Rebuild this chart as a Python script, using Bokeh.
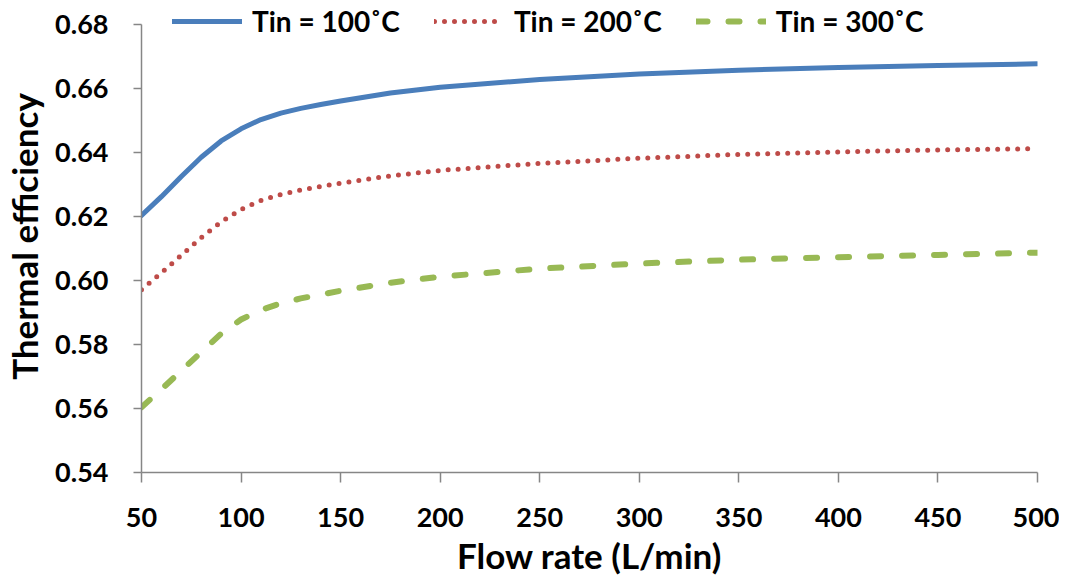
from bokeh.plotting import figure
from bokeh.models import FixedTicker, NumeralTickFormatter, Range1d, Legend, LegendItem
from bokeh.embed import file_html
from bokeh.resources import INLINE

flow_rate = [50, 60, 70, 80, 90, 100, 110, 120, 130, 140, 150, 175, 200, 250, 300, 350, 400, 450, 500]
eff_100 = [0.6203, 0.6262, 0.6325, 0.6385, 0.6436, 0.6474, 0.6503, 0.6523, 0.6538, 0.6550, 0.6561,
           0.6586, 0.6604, 0.6628, 0.6645, 0.6657, 0.6666, 0.6672, 0.6677]
eff_200 = [0.5971, 0.6024, 0.6079, 0.6134, 0.6183, 0.6222, 0.6250, 0.6269, 0.6283, 0.6294, 0.6304,
           0.6327, 0.6344, 0.6366, 0.6382, 0.6394, 0.6402, 0.6408, 0.6412]
eff_300 = [0.5604, 0.5660, 0.5718, 0.5776, 0.5834, 0.5878, 0.5908, 0.5929, 0.5944, 0.5956, 0.5968,
           0.5993, 0.6012, 0.6037, 0.6053, 0.6065, 0.6073, 0.6080, 0.6087]
labels = ["Tin = 100˚C", "Tin = 200˚C", "Tin = 300˚C"]
x_ticks = [50, 100, 150, 200, 250, 300, 350, 400, 450, 500]
y_ticks = [0.54, 0.56, 0.58, 0.60, 0.62, 0.64, 0.66, 0.68]

FONT = "Lato"
AXIS_GRAY = "#868686"

p = figure(width=1059, height=578, output_backend="svg", toolbar_location=None,
           x_range=Range1d(50, 500), y_range=Range1d(0.54, 0.6875),
           min_border_left=141, min_border_right=22, min_border_top=0, min_border_bottom=106)
p.outline_line_color = None
p.xgrid.visible = False
p.ygrid.visible = False
p.background_fill_color = "white"
p.border_fill_color = "white"

r1 = p.line(flow_rate, eff_100, line_color="#4A7EBB", line_width=5, line_cap="round", line_join="round")
r2 = p.line(flow_rate, eff_200, line_color="#BE4B48", line_width=5, line_cap="round",
            line_dash="0 10")
r3 = p.line(flow_rate, eff_300, line_color="#98B954", line_width=6, line_cap="round",
            line_dash="11 21")

for ax in (p.xaxis[0], p.yaxis[0]):
    ax.axis_line_color = AXIS_GRAY
    ax.axis_line_width = 1.5
    ax.major_tick_line_color = AXIS_GRAY
    ax.major_tick_line_width = 1.5
    ax.major_tick_in = 0
    ax.minor_tick_line_color = None
    ax.major_label_text_font = FONT
    ax.major_label_text_font_style = "bold"
    ax.major_label_text_font_size = "27px"
    ax.major_label_text_color = "black"
    ax.axis_label_text_font = FONT
    ax.axis_label_text_font_style = "bold"
    ax.axis_label_text_font_size = "35px"
    ax.axis_label_text_color = "black"

p.xaxis.ticker = FixedTicker(ticks=x_ticks)
p.yaxis.ticker = FixedTicker(ticks=y_ticks)
p.yaxis.bounds = (0.54, 0.68)
p.yaxis.formatter = NumeralTickFormatter(format="0.00")
p.xaxis.major_tick_out = 10
p.yaxis.major_tick_out = 8
p.xaxis.major_label_standoff = 25
p.yaxis.major_label_standoff = 25
p.xaxis.axis_label = "Flow rate (L/min)"
p.yaxis.axis_label = "Thermal efficiency"
p.xaxis.axis_label_standoff = 4
p.yaxis.axis_label_standoff = 7

legend = Legend(items=[LegendItem(label=labels[0], renderers=[r1]),
                       LegendItem(label=labels[1], renderers=[r2]),
                       LegendItem(label=labels[2], renderers=[r3])],
                orientation="horizontal", location=(31, 434),
                label_text_font=FONT, label_text_font_style="bold",
                label_text_font_size="28px", label_text_color="black",
                glyph_width=70, label_standoff=10, spacing=34,
                padding=0, margin=0, border_line_color=None,
                background_fill_alpha=0)
p.add_layout(legend, "center")

open("out.html", "w").write(file_html(p, INLINE))
